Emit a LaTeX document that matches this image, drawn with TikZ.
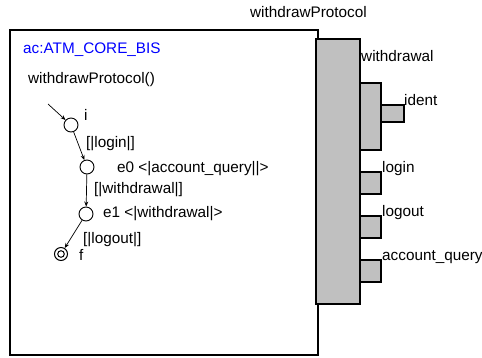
\documentclass[tikz,border=0pt]{standalone}
\usepackage{fontspec}
\setmainfont{Liberation Sans}
\usetikzlibrary{arrows.meta}
\definecolor{blockgray}{RGB}{192,192,192}
\definecolor{titleblue}{RGB}{0,0,255}
\tikzset{
  txt/.style={inner sep=0pt, anchor=base west, font=\fontsize{15.3}{18}\selectfont},
  frame/.style={draw=black, line width=1.4pt},
  block/.style={draw=black, line width=1.4pt, fill=blockgray},
  state/.style={draw=black, circle, line width=0.9pt, minimum size=14pt, inner sep=0pt},
  finalstate/.style={draw=black, circle, line width=1pt, minimum size=13pt, inner sep=0pt,
    path picture={\draw[line width=1pt] (path picture bounding box.center) circle[radius=3.3pt];}},
  trans/.style={draw=black, line width=0.7pt, -{Stealth[length=5pt,width=4pt]}}
}
\begin{document}
\begin{tikzpicture}[x=1pt,y=-1pt]
\useasboundingbox (0,0) rectangle (482,357);

% component frame
\draw[frame] (10,30) rectangle (318,355);
\node[txt, text=titleblue] (title) at (23,53) {ac:ATM\_CORE\_BIS};
\node[txt] (proto) at (28,83) {withdrawProtocol()};

% protocol block and its ports
\draw[block] (316,39) rectangle (360,304);
\draw[block] (360,83) rectangle (381,150);
\draw[block] (381,105) rectangle (404,122);
\draw[block] (360,172) rectangle (381,194);
\draw[block] (360,216) rectangle (381,238);
\draw[block] (360,260) rectangle (381,282);

\node[txt] (protoname) at (250,17) {withdrawProtocol};
\node[txt] (pwithdrawal) at (361,61) {withdrawal};
\node[txt] (pident) at (404,105) {ident};
\node[txt] (plogin) at (382,172) {login};
\node[txt] (plogout) at (382,216) {logout};
\node[txt] (pquery) at (382,260) {account\_query};

% state machine
\coordinate (init) at (48,104);
\node[state] (i) at (71,125) {};
\node[state] (e0) at (87,167) {};
\node[state] (e1) at (86,214) {};
\node[finalstate] (f) at (61,254) {};

\draw[trans] (init) -- (i);
\draw[trans] (i) -- (e0);
\draw[trans] (e0) -- (e1);
\draw[trans] (e1) -- (f);

\node[txt] (li) at (84,120) {i};
\node[txt] (le0) at (117,172) {e0 <|account\_query||>};
\node[txt] (le1) at (103,217) {e1 <|withdrawal|>};
\node[txt] (lf) at (79,260) {f};
\node[txt] (tlogin) at (86,147) {[|login|]};
\node[txt] (twithdrawal) at (94,193) {[|withdrawal|]};
\node[txt] (tlogout) at (83,243) {[|logout|]};
\end{tikzpicture}
\end{document}
